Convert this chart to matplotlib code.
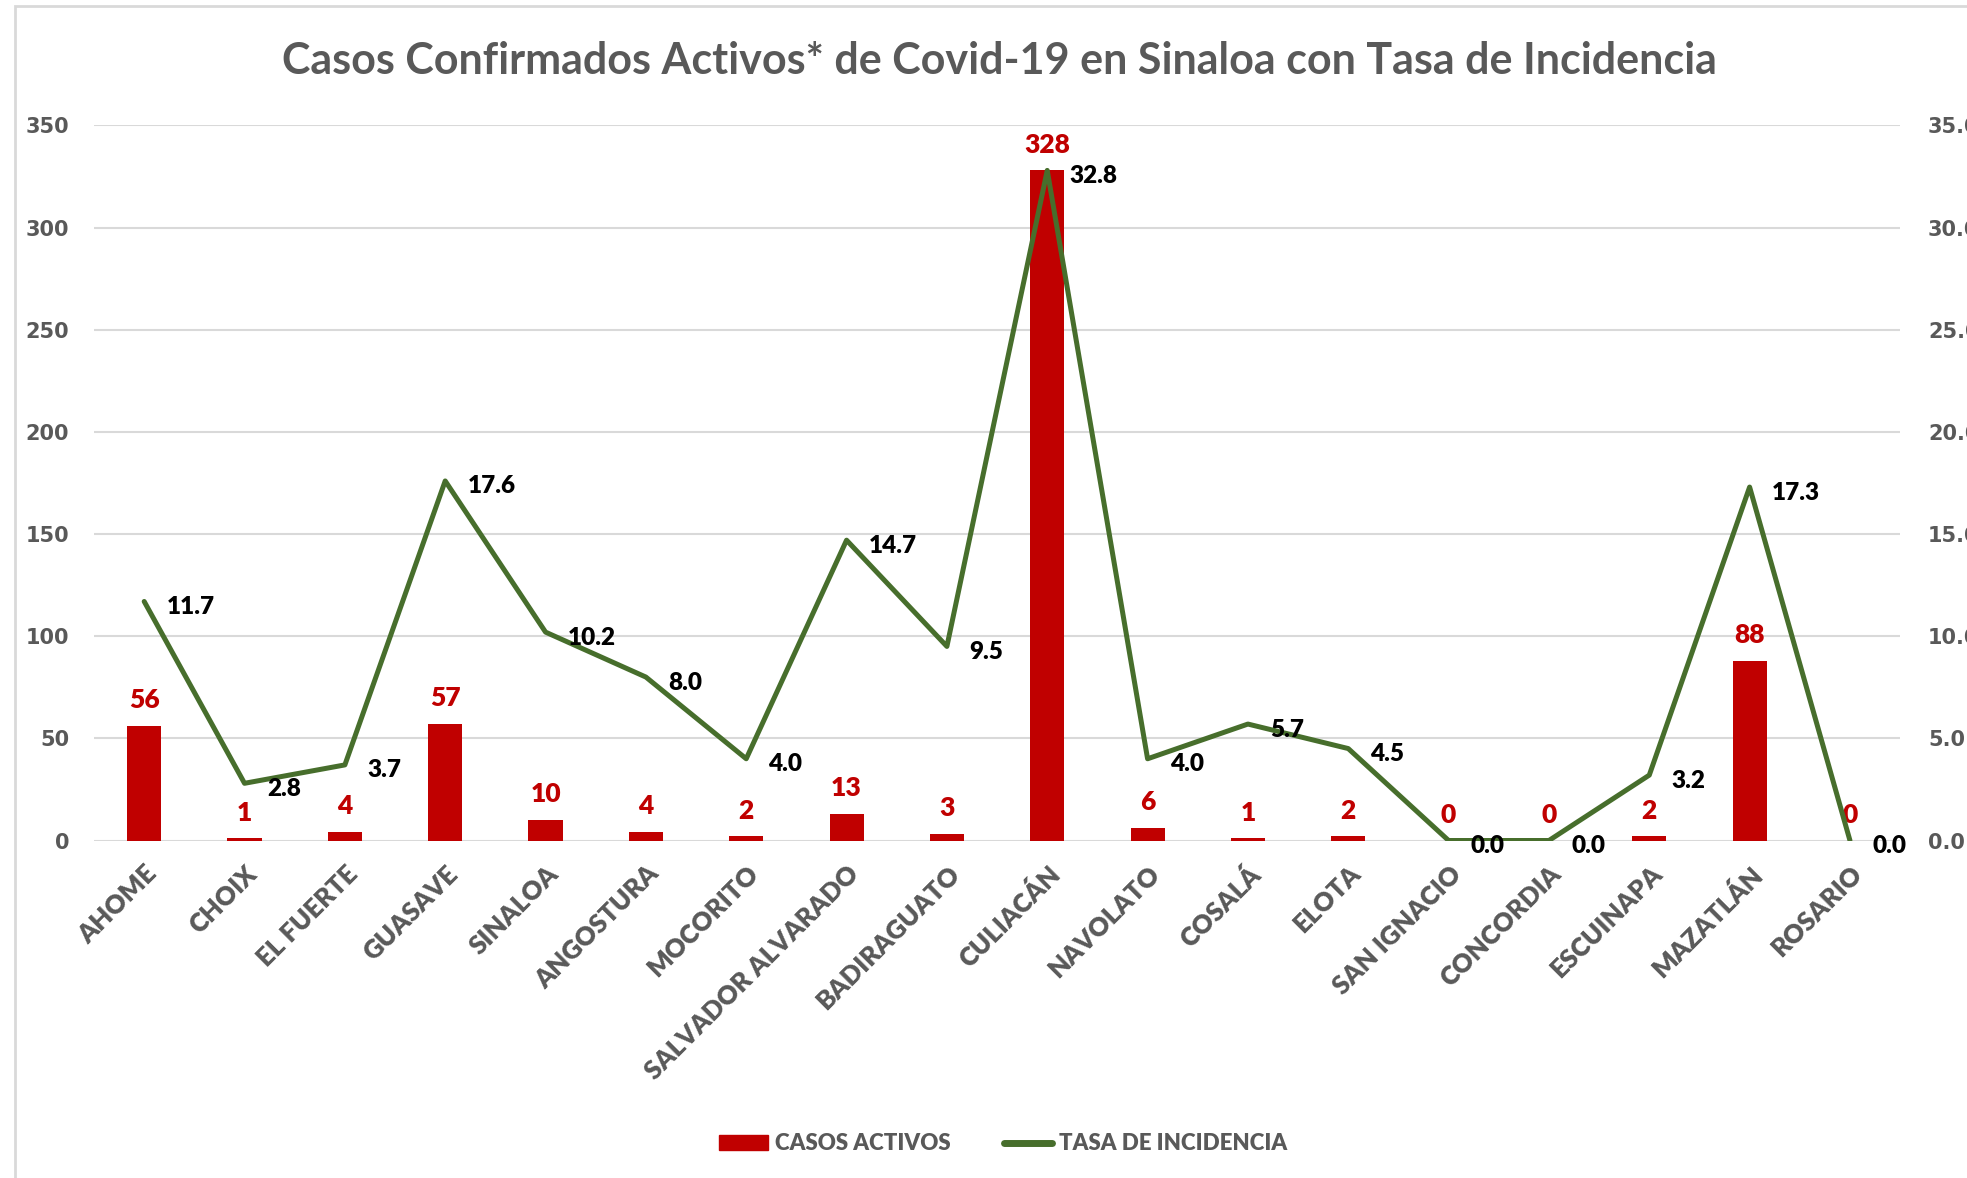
import matplotlib.pyplot as plt
import matplotlib.patches as mpatches
from matplotlib.lines import Line2D
import numpy as np

# municipios de Sinaloa
municipios = ["AHOME", "CHOIX", "EL FUERTE", "GUASAVE", "SINALOA", "ANGOSTURA",
              "MOCORITO", "SALVADOR ALVARADO", "BADIRAGUATO", "CULIACÁN", "NAVOLATO",
              "COSALÁ", "ELOTA", "SAN IGNACIO", "CONCORDIA", "ESCUINAPA",
              "MAZATLÁN", "ROSARIO"]
casos_activos = [56, 1, 4, 57, 10, 4, 2, 13, 3, 328, 6, 1, 2, 0, 0, 2, 88, 0]
tasa_incidencia = [11.7, 2.8, 3.7, 17.6, 10.2, 8.0, 4.0, 14.7, 9.5, 32.8, 4.0,
                   5.7, 4.5, 0.0, 0.0, 3.2, 17.3, 0.0]
left_ticks = [0, 50, 100, 150, 200, 250, 300, 350]
right_ticks = [0.0, 5.0, 10.0, 15.0, 20.0, 25.0, 30.0, 35.0]

RED = "#C00000"
GREEN = "#476E2C"
GRAY = "#595959"
FONT = ["Lato", "DejaVu Sans"]
TICKFONT = ["DejaVu Sans"]

fig = plt.figure(figsize=(19.67, 11.78), dpi=100)
ax = fig.add_axes([0.0478, 0.2865, 0.9182, 0.607])
ax2 = ax.twinx()

x = np.arange(len(municipios))
ax.bar(x, casos_activos, width=0.34, color=RED, zorder=2)
ax.set_ylim(0, 350)
ax.set_xlim(-0.5, len(municipios) - 0.5)
ax.set_yticks(left_ticks)
ax.yaxis.grid(True, color="#D9D9D9", linewidth=1.5, zorder=0)
ax.set_axisbelow(True)
for s in ax.spines.values():
    s.set_visible(False)
for s in ax2.spines.values():
    s.set_visible(False)
ax.tick_params(axis="y", length=0, pad=18, labelsize=15, labelcolor=GRAY)
ax.tick_params(axis="x", length=0, pad=15)
for lbl in ax.get_yticklabels():
    lbl.set_fontweight("bold")
    lbl.set_family(TICKFONT)

ax.set_xticks(x)
ax.set_xticklabels(municipios, rotation=45, ha="right", va="top",
                   rotation_mode="anchor", fontsize=18.5, color=GRAY,
                   family=FONT, fontweight="heavy")

for xi, v in zip(x, casos_activos):
    ax.annotate(str(v), (xi, v), xytext=(0, 10), textcoords="offset points",
                ha="center", va="bottom", color=RED, fontsize=19,
                fontweight="heavy", family=FONT)

ax2.plot(x, tasa_incidencia, color=GREEN, linewidth=3.6, zorder=3,
         solid_capstyle="round", solid_joinstyle="round")
ax2.set_ylim(0, 35)
ax2.set_yticks(right_ticks)
ax2.set_yticklabels([f"{t:.1f}" for t in right_ticks])
ax2.tick_params(axis="y", length=0, pad=20, labelsize=15, labelcolor=GRAY)
for lbl in ax2.get_yticklabels():
    lbl.set_fontweight("bold")
    lbl.set_family(TICKFONT)

for xi, v in zip(x, tasa_incidencia):
    ax2.annotate(f"{v:.1f}", (xi, v), xytext=(16, -4), textcoords="offset points",
                 ha="left", va="center", color="black", fontsize=17.5,
                 fontweight="heavy", family=FONT)

fig.text(0.508, 0.948, "Casos Confirmados Activos* de Covid-19 en Sinaloa con Tasa de Incidencia",
         ha="center", va="center", fontsize=31, fontweight="bold", color=GRAY,
         family=FONT)

# legend
handles = [mpatches.Patch(color=RED, label="CASOS ACTIVOS"),
           Line2D([0], [0], color=GREEN, linewidth=5, solid_capstyle="round",
                  label="TASA DE INCIDENCIA")]
fig.legend(handles=handles, loc="center", bbox_to_anchor=(0.51, 0.029), ncol=2,
           frameon=False, prop={"family": FONT, "size": 16, "weight": "heavy"},
           labelcolor=GRAY, handlelength=2.2, handleheight=0.7, columnspacing=2.4,
           handletextpad=0.3)

# chart area border
fig.patches.append(mpatches.Rectangle((15 / 1967, -0.05), 1.2, 1 - 6 / 1178 + 0.05,
                                      transform=fig.transFigure, fill=False,
                                      edgecolor="#D9D9D9", linewidth=2))

fig.savefig("out.png", dpi=100)
